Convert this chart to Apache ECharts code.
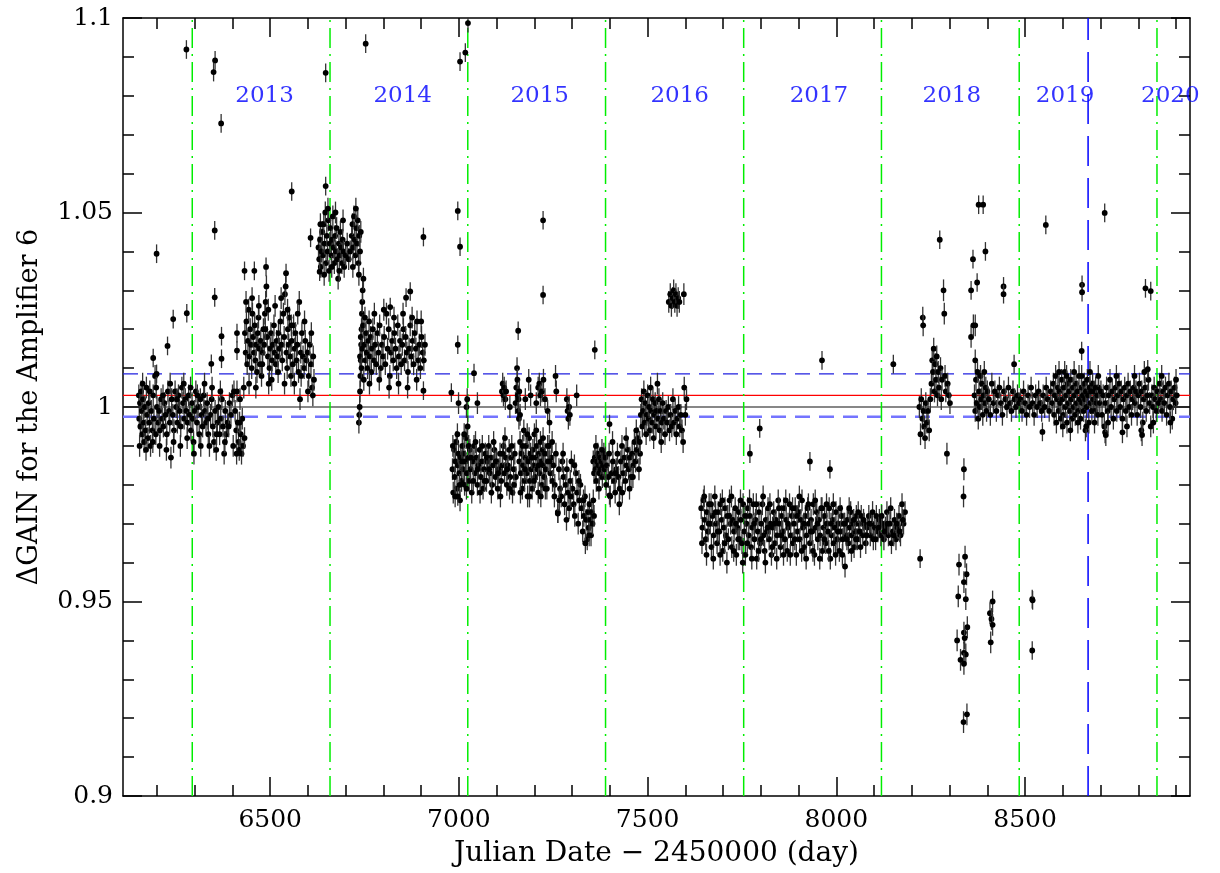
<!DOCTYPE html>
<html>
<head>
<meta charset="utf-8">
<script src="https://cdn.jsdelivr.net/npm/echarts@6/dist/echarts.min.js"></script>
<style>
  html, body { margin: 0; padding: 0; background: #fff; }
  #main { width: 1220px; height: 873px; }
</style>
</head>
<body>
<div id="main"></div>
<script>
// year boundaries (JD - 2450000) and the labels between them
var yearStarts = [6293.5, 6658.5, 7023.5, 7388.5, 7754.5, 8119.5, 8484.5, 8849.5];
var yearNames = ['2013', '2014', '2015', '2016', '2017', '2018', '2019', '2020'];
var yearLabelX = [6485, 6851, 7214, 7585, 7954, 8306, 8606, 8885];
var yearLabelY = 1.08;
var markerJD = 8667;

// reference levels
var levelOne = 1.0;
var levelMean = 1.003;
var levelUpper = 1.0085;
var levelLower = 0.9975;

var xMajorTicks = [6500, 7000, 7500, 8000, 8500];
var xMinorTicks = [6200, 6300, 6400, 6500, 6600, 6700, 6800, 6900, 7000, 7100, 7200, 7300, 7400,
  7500, 7600, 7700, 7800, 7900, 8000, 8100, 8200, 8300, 8400, 8500, 8600, 8700, 8800, 8900];

// [JD, gain], one array per observing season
var season2012 = [[6152,1.003],[6153,0.997],[6155,1.001],[6156,0.995],[6158,1.004],[6160,0.999],[6161,0.993],[6163,1.002],
  [6165,0.996],[6166,0.991],[6168,1.000],[6170,0.994],[6172,1.005],[6174,0.998],[6176,0.992],[6178,1.001],[6180,0.996],
  [6183,0.990],[6185,0.999],[6188,0.994],[6190,1.003],[6192,0.997],[6195,1.008],[6197,0.993],[6200,1.000],[6203,0.996],
  [6206,0.999],[6208,0.994],[6211,1.002],[6214,0.997],[6217,0.995],[6220,1.001],[6223,0.998],[6226,0.993],[6229,1.004],
  [6232,0.999],[6234,0.996],[6237,0.987],[6239,1.002],[6242,0.998],[6245,0.994],[6248,1.004],[6251,1.000],[6254,0.996],
  [6257,1.003],[6260,0.999],[6263,0.995],[6266,1.005],[6269,1.001],[6272,0.997],[6275,1.002],[6278,0.999],[6281,0.996],
  [6284,1.003],[6287,0.998],[6290,0.994],[6293,1.001],[6295,0.997],[6297,0.991],[6300,0.999],[6303,1.004],[6306,0.996],
  [6309,1.000],[6312,0.993],[6315,1.002],[6318,0.998],[6321,0.995],[6324,1.003],[6327,0.999],[6330,0.996],[6333,1.001],
  [6336,0.993],[6339,0.990],[6342,0.998],[6345,1.002],[6348,0.995],[6351,0.991],[6354,0.999],[6357,0.989],[6360,0.996],
  [6363,1.000],[6366,0.993],[6369,0.997],[6372,1.002],[6375,0.995],[6378,0.988],[6381,0.999],[6384,0.993],[6387,0.996],
  [6392,1.001],[6396,0.998],[6400,1.003],[6404,1.004],[6407,0.999],[6410,0.994],[6412,1.004],[6414,0.996],[6416,0.991],
  [6418,0.989],[6420,1.002],[6422,0.993],[6424,0.988],[6426,0.997],[6428,0.990],[6430,1.005],[6432,0.992],
  [6154,0.990],[6162,1.006],[6171,0.989],[6181,1.004],[6189,0.991],[6198,1.005],[6207,0.990],[6216,1.003],[6225,0.989],
  [6235,1.006],[6244,0.991],[6253,1.002],[6262,0.990],[6271,1.006],[6280,0.992],[6289,1.005],[6298,0.988],[6307,1.003],
  [6316,0.990],[6326,1.006],[6335,0.997],[6346,1.005],[6358,0.993],[6368,1.004],[6380,0.991],[6390,0.995],[6402,0.990],
  [6411,0.988],[6419,0.996]];

var season2013 = [[6433,1.019],[6435,1.014],[6437,1.022],[6439,1.011],[6441,1.017],[6443,1.025],[6445,1.013],[6447,1.020],
  [6449,1.016],[6451,1.010],[6453,1.024],[6455,1.018],[6457,1.014],[6459,1.021],[6461,1.012],[6463,1.016],[6465,1.009],
  [6467,1.019],[6469,1.023],[6471,1.015],[6473,1.011],[6475,1.017],[6477,1.008],[6480,1.014],[6482,1.020],[6484,1.016],
  [6486,1.024],[6488,1.027],[6490,1.031],[6492,1.018],[6494,1.013],[6496,1.006],[6498,1.010],[6500,1.015],[6502,1.019],
  [6505,1.012],[6507,1.016],[6510,1.021],[6512,1.014],[6515,1.011],[6517,1.017],[6520,1.013],[6522,1.019],[6525,1.015],
  [6527,1.022],[6530,1.016],[6532,1.012],[6535,1.024],[6537,1.018],[6539,1.029],[6541,1.031],[6543,1.014],[6545,1.010],
  [6547,1.020],[6549,1.016],[6551,1.023],[6553,1.013],[6555,1.008],[6557,1.017],[6560,1.011],[6562,1.021],[6565,1.015],
  [6567,1.019],[6570,1.012],[6572,1.016],[6575,1.009],[6577,1.027],[6579,1.002],[6581,1.014],[6584,1.019],[6587,1.013],
  [6590,1.010],[6593,1.017],[6596,1.012],[6599,1.014],[6602,1.008],[6605,1.016],[6608,1.011],[6611,1.005],[6614,1.013],
  [6616,1.007],
  [6436,1.027],[6444,1.006],[6452,1.028],[6462,1.005],[6470,1.026],[6479,1.011],[6487,1.020],[6495,1.025],[6504,1.007],
  [6513,1.026],[6521,1.009],[6529,1.028],[6538,1.006],[6546,1.025],[6556,1.021],[6564,1.006],[6573,1.024],[6582,1.008],
  [6591,1.022],[6600,1.004],[6609,1.019],[6613,1.003]];

var season2014a = [[6628,1.041],[6630,1.038],[6632,1.043],[6634,1.036],[6636,1.040],[6638,1.045],[6640,1.039],[6642,1.047],
  [6644,1.042],[6646,1.050],[6648,1.037],[6650,1.044],[6652,1.040],[6654,1.048],[6656,1.035],[6658,1.042],[6660,1.046],
  [6662,1.039],[6664,1.043],[6666,1.049],[6668,1.041],[6670,1.037],[6672,1.044],[6674,1.040],[6676,1.046],[6678,1.038],
  [6680,1.033],[6682,1.042],[6684,1.039],[6686,1.045],[6688,1.041],[6690,1.037],[6692,1.043],[6694,1.040],[6696,1.036],
  [6700,1.039],[6704,1.042],[6708,1.038],[6712,1.040],[6716,1.044],[6718,1.047],[6720,1.041],[6722,1.049],[6724,1.043],
  [6726,1.039],[6728,1.046],[6730,1.042],[6732,1.048],[6734,1.037],[6736,1.044],[6738,1.040],[6740,1.045],
  [6633,1.047],[6643,1.034],[6653,1.051],[6663,1.036],[6673,1.050],[6683,1.035],[6693,1.048],[6719,1.036],[6727,1.051],
  [6735,1.034]];

var season2014b = [[6735,0.996],[6736,0.998],[6737,1.000],[6738,1.004],[6739,1.008],[6740,1.012],[6741,1.016],[6742,1.020],
  [6743,1.024],[6744,1.027],[6745,1.030],[6747,1.033],
  [6738,1.013],[6740,1.018],[6742,1.010],[6744,1.015],[6746,1.021],[6748,1.007],[6750,1.016],[6752,1.012],[6754,1.019],
  [6756,1.014],[6758,1.010],[6760,1.017],[6762,1.022],[6764,1.013],[6766,1.018],[6768,1.009],[6770,1.015],[6772,1.020],
  [6775,1.012],[6778,1.016],[6781,1.011],[6784,1.019],[6787,1.014],[6790,1.021],[6793,1.010],[6796,1.016],[6799,1.013],
  [6802,1.018],[6805,1.011],[6808,1.024],[6811,1.015],[6814,1.020],[6817,1.008],[6820,1.014],[6823,1.017],[6826,1.012],
  [6829,1.019],[6832,1.015],[6835,1.010],[6838,1.021],[6841,1.013],[6844,1.017],[6847,1.011],[6850,1.016],[6853,1.020],
  [6856,1.012],[6859,1.018],[6862,1.014],[6865,1.009],[6868,1.015],[6871,1.021],[6874,1.013],[6877,1.017],[6880,1.011],
  [6883,1.019],[6886,1.015],[6889,1.022],[6892,1.012],[6895,1.016],[6898,1.010],[6901,1.018],[6904,1.014],[6907,1.012],
  [6910,1.016],
  [6751,1.023],[6763,1.006],[6776,1.024],[6789,1.007],[6801,1.025],[6815,1.005],[6828,1.023],[6840,1.006],[6852,1.024],
  [6864,1.005],[6876,1.023],[6888,1.007],[6900,1.022]];

var season2015 = [[6983,0.984],[6985,0.978],[6987,0.989],[6989,0.982],[6991,0.986],[6993,0.991],[6995,0.979],[6997,0.985],
  [6999,0.988],[7001,0.983],[7003,0.976],[7005,0.987],[7007,0.981],[7009,0.990],[7011,0.984],[7013,0.988],[7015,0.980],
  [7017,0.986],[7019,0.992],[7021,0.983],[7023,0.995],[7025,0.987],[7027,0.981],[7029,0.989],[7031,0.984],[7034,0.978],
  [7037,0.986],[7040,0.990],[7043,0.983],[7046,0.987],[7049,0.980],[7052,0.985],[7055,0.989],[7058,0.982],[7061,0.986],
  [7064,0.979],[7067,0.984],[7070,0.988],[7073,0.981],[7076,0.986],[7079,0.990],[7082,0.983],[7085,0.987],[7088,0.980],
  [7091,0.985],[7094,0.989],[7097,0.982],[7100,0.986],[7103,0.979],[7106,0.984],[7109,0.988],[7112,0.981],[7115,0.985],
  [7118,0.990],[7121,0.983],[7124,0.987],[7127,0.980],[7130,0.985],[7133,0.989],[7136,0.982],[7139,0.987],[7142,0.978],
  [7145,0.984],[7148,0.988],[7151,0.982],
  [7160,0.986],[7162,0.991],[7164,0.983],[7166,0.988],[7168,0.979],[7170,0.985],[7172,0.994],[7174,0.981],[7176,0.987],
  [7178,0.990],[7180,0.983],[7182,0.977],[7184,0.986],[7186,0.992],[7188,0.981],[7190,0.988],[7192,0.984],[7194,0.979],
  [7196,0.989],[7198,0.985],[7200,0.993],[7202,0.982],[7204,0.987],[7206,0.990],[7208,0.984],[7210,0.978],[7212,0.988],
  [7214,0.983],[7216,0.991],[7218,0.986],[7220,0.980],[7222,0.989],[7224,0.985],[7226,0.982],[7228,0.988],[7230,0.984],
  [7233,0.979],[7236,0.986],[7239,0.990],[7242,0.983],[7245,0.987],[7248,0.981],[7251,0.985],[7254,0.980],[7257,0.988],
  [7262,0.973],[7265,0.984],[7268,0.979],[7271,0.977],[7274,0.986],[7277,0.982],[7280,0.975],[7283,0.980],[7286,0.984],
  [7289,0.978],[7292,0.974],[7295,0.981],[7298,0.986],[7301,0.979],[7304,0.975],[7307,0.972],[7310,0.983],[7313,0.978],
  [7316,0.970],[7319,0.976],[7322,0.980],[7325,0.974],[7328,0.968],[7331,0.972],[7334,0.977],[7337,0.971],[7340,0.966],
  [7342,0.973],[7344,0.969],[7346,0.975],[7348,0.971],[7350,0.967],[7352,0.973],[7354,0.970],[7356,0.976],[7358,0.972],
  [6984,0.990],[6990,0.977],[6996,0.993],[7002,0.980],[7008,0.986],[7014,0.993],[7020,0.979],[7026,0.990],[7032,0.987],
  [7038,0.981],[7044,0.991],[7050,0.984],[7056,0.978],[7062,0.990],[7068,0.981],[7074,0.987],[7080,0.984],[7086,0.978],
  [7092,0.991],[7098,0.986],[7104,0.983],[7110,0.977],[7116,0.988],[7122,0.992],[7128,0.984],[7134,0.979],[7140,0.990],
  [7146,0.980],[7163,0.978],[7169,0.990],[7175,0.984],[7181,0.993],[7187,0.977],[7193,0.987],[7199,0.981],[7205,0.994],
  [7211,0.985],[7217,0.977],[7223,0.992],[7229,0.979],[7235,0.990],[7241,0.986],[7247,0.991],[7253,0.977],[7266,0.976],
  [7276,0.988],[7285,0.971],[7296,0.977],[7306,0.985],[7318,0.981],[7330,0.976],[7335,0.965],[7345,0.967]];

var season2015up = [[6999,1.001],[7020,1.000],[7022,1.002],[7049,1.001],[7114,1.004],[7116,1.006],[7118,1.003],[7120,1.005],
  [7123,1.002],[7125,1.004],[7135,1.000],[7150,1.001],[7152,1.005],[7154,1.010],[7155,1.007],[7156,1.003],[7157,0.999],
  [7158,1.002],[7159,0.997],[7160,1.004],[7162,0.998],[7176,1.002],[7185,1.007],[7190,1.003],[7205,1.001],[7210,1.005],
  [7213,1.006],[7216,1.003],[7220,1.004],[7224,1.007],[7228,1.002],[7235,0.999],[7240,0.996],[7256,1.008],[7258,1.004],
  [7286,1.002],[7288,0.999],[7290,0.997],[7292,1.000],[7294,0.998],[7312,1.003]];

var season2016 = [[7356,0.986],[7358,0.983],[7360,0.987],[7362,0.984],[7364,0.981],[7366,0.986],[7368,0.988],[7370,0.985],
  [7372,0.983],[7374,0.987],[7376,0.984],[7378,0.986],[7380,0.982],[7382,0.985],[7384,0.988],[7386,0.984],[7388,0.987],
  [7392,0.985],[7396,0.982],[7401,0.977],[7405,0.983],[7408,0.986],[7411,0.981],[7414,0.978],[7417,0.984],[7420,0.988],
  [7423,0.982],[7426,0.979],[7429,0.986],[7432,0.990],[7435,0.983],[7438,0.987],[7441,0.981],[7444,0.985],[7447,0.989],
  [7450,0.984],[7453,0.987],[7456,0.982],[7459,0.988],[7462,0.985],[7465,0.991],[7468,0.986],[7471,0.989],[7474,0.992],
  [7477,0.984],[7480,0.988],
  [7363,0.990],[7371,0.979],[7379,0.989],[7390,0.980],[7398,0.988],[7407,0.991],[7415,0.983],[7425,0.975],[7433,0.978],
  [7443,0.992],[7452,0.979],[7461,0.982],[7470,0.994],[7479,0.991],
  [7482,0.998],[7484,1.002],[7486,0.995],[7488,0.999],[7490,1.004],[7492,0.996],[7494,1.001],[7496,0.993],[7498,0.998],
  [7500,1.003],[7502,0.997],[7504,1.000],[7506,0.994],[7508,1.005],[7510,0.999],[7512,0.996],[7514,1.002],[7516,0.992],
  [7518,0.998],[7520,1.001],[7522,0.995],[7524,0.999],[7526,1.006],[7528,0.997],[7530,1.002],[7532,0.994],[7534,0.999],
  [7536,0.991],[7538,0.996],[7540,1.001],[7543,0.997],[7546,0.993],[7549,0.999],[7552,0.996],[7555,1.000],[7558,0.994],
  [7561,0.998],[7564,0.995],[7567,1.002],[7570,0.996],[7573,0.999],[7576,0.993],[7579,0.997],[7582,1.000],[7585,0.995],
  [7588,0.998],[7591,0.994],[7594,0.991],[7597,1.005],[7600,0.998],[7603,1.002],
  [7556,1.027],[7560,1.029],[7563,1.026],[7566,1.028],[7569,1.030],[7572,1.027],[7575,1.029],[7578,1.026],[7581,1.028],
  [7584,1.027],[7596,1.029]];

var season2017 = [[7642,0.974],[7645,0.969],[7648,0.976],[7651,0.971],[7654,0.966],[7657,0.973],[7660,0.968],[7663,0.975],
  [7666,0.970],[7669,0.964],[7672,0.972],[7675,0.967],[7678,0.977],[7681,0.970],[7684,0.965],[7687,0.973],[7690,0.968],
  [7693,0.975],[7696,0.971],[7699,0.963],[7702,0.969],[7705,0.974],[7708,0.967],[7711,0.972],[7714,0.966],[7717,0.976],
  [7720,0.970],[7723,0.964],[7726,0.971],[7729,0.968],[7732,0.974],[7735,0.962],[7738,0.969],[7741,0.973],[7744,0.966],
  [7747,0.971],[7750,0.965],[7753,0.975],[7756,0.968],[7759,0.962],[7762,0.970],[7765,0.974],[7768,0.967],[7771,0.972],
  [7774,0.964],[7777,0.969],[7780,0.975],[7783,0.966],[7786,0.971],[7789,0.961],[7792,0.968],[7795,0.973],[7798,0.965],
  [7801,0.970],[7804,0.975],[7807,0.967],[7810,0.963],[7813,0.971],[7816,0.968],[7819,0.974],[7822,0.966],[7825,0.970],
  [7828,0.962],[7831,0.969],[7834,0.973],[7837,0.965],[7840,0.971],[7843,0.967],[7846,0.976],[7849,0.970],[7852,0.964],
  [7855,0.972],[7858,0.968],[7861,0.974],[7864,0.966],[7867,0.971],[7870,0.963],[7873,0.969],[7876,0.975],[7879,0.967],
  [7882,0.972],[7885,0.965],[7888,0.970],[7891,0.974],[7894,0.962],[7897,0.968],[7900,0.973],[7903,0.966],[7906,0.971],
  [7909,0.976],[7912,0.969],[7915,0.964],[7918,0.972],[7921,0.967],[7924,0.974],[7927,0.970],[7930,0.965],[7933,0.971],
  [7936,0.968],[7939,0.975],[7942,0.962],[7945,0.969],[7948,0.973],[7951,0.966],[7954,0.971],[7957,0.967],[7960,0.974],
  [7963,0.963],[7966,0.969],[7969,0.972],[7972,0.965],[7975,0.970],[7978,0.968],[7981,0.974],[7984,0.961],[7987,0.967],
  [7990,0.971],[7993,0.965],[7996,0.969],[7999,0.973],[8002,0.966],[8005,0.970],[8008,0.963],[8011,0.968],[8014,0.972],
  [8017,0.966],[8020,0.970],[8023,0.959],[8026,0.967],[8029,0.971],[8032,0.965],[8035,0.969],[8038,0.973],[8041,0.967],
  [8044,0.970],[8047,0.964],[8050,0.968],[8053,0.972],[8056,0.966],[8059,0.970],[8062,0.968],[8066,0.972],[8070,0.967],
  [8074,0.970],[8078,0.965],[8082,0.969],[8086,0.972],[8090,0.967],[8094,0.970],[8098,0.966],[8102,0.969],[8106,0.972],
  [8110,0.968],[8114,0.971],[8118,0.967],[8122,0.970],[8126,0.966],[8130,0.969],[8134,0.973],[8138,0.967],[8142,0.970],
  [8146,0.965],[8150,0.968],[8154,0.971],[8158,0.966],[8162,0.969],[8166,0.972],[8170,0.967],[8174,0.975],[8178,0.970],
  [8182,0.973],
  [7644,0.965],[7650,0.977],[7656,0.962],[7662,0.970],[7668,0.975],[7674,0.961],[7680,0.973],[7686,0.968],[7692,0.962],
  [7698,0.976],[7704,0.965],[7710,0.960],[7716,0.972],[7722,0.977],[7728,0.963],[7734,0.970],[7740,0.966],[7746,0.976],
  [7752,0.960],[7758,0.972],[7764,0.965],[7770,0.976],[7776,0.961],[7782,0.970],[7788,0.975],[7794,0.963],[7800,0.966],
  [7806,0.977],[7812,0.960],[7818,0.969],[7824,0.975],[7830,0.964],[7836,0.970],[7842,0.961],[7848,0.974],[7854,0.967],
  [7860,0.962],[7866,0.976],[7872,0.970],[7878,0.962],[7884,0.974],[7890,0.966],[7896,0.972],[7902,0.977],[7908,0.963],
  [7914,0.970],[7920,0.961],[7926,0.975],[7932,0.968],[7938,0.963],[7944,0.976],[7950,0.970],[7956,0.961],[7962,0.974],
  [7968,0.966],[7974,0.975],[7980,0.963],[7986,0.970],[7992,0.975],[7998,0.962],[8004,0.968],[8010,0.974],[8016,0.962],
  [8022,0.970],[8028,0.966],[8034,0.974],[8040,0.963],[8046,0.971],[8052,0.966],[8058,0.973],[8064,0.964],[8072,0.971],
  [8080,0.967],[8088,0.970],[8096,0.973],[8104,0.966],[8112,0.969],[8120,0.972],[8128,0.968],[8136,0.970],[8144,0.974],
  [8152,0.967],[8160,0.970],[8168,0.968],[8176,0.971]];

var season2018 = [[8220,1.000],[8223,0.993],[8225,1.002],[8228,0.997],[8229,1.023],[8230,1.021],[8231,0.999],[8233,0.995],
  [8235,0.992],[8237,1.001],[8240,0.996],[8243,0.999],[8246,0.994],[8249,1.002],[8252,1.006],[8254,1.012],[8256,1.009],
  [8258,1.015],[8260,1.004],[8262,1.011],[8264,1.007],[8266,1.013],[8268,1.003],[8270,1.009],[8272,1.005],[8276,1.010],
  [8278,1.002],[8280,1.007],[8284,1.030],[8286,1.024],[8288,1.008],[8290,1.004],[8293,0.988],[8295,1.006],[8298,1.003],
  [8301,1.001],[8337,0.977],[8338,0.984],[8357,1.018],[8363,1.021],[8368,1.021],[8368,1.012],
  [8366,1.003],[8368,0.999],[8370,1.007],[8372,1.001],[8374,1.009],[8376,0.997],[8378,1.004],[8380,1.000],[8382,1.008],
  [8384,1.002],[8386,1.006],[8388,0.998],[8390,1.003],[8392,1.009],[8394,1.001],[8396,1.005],[8398,0.999],[8400,1.004],
  [8404,1.002],[8408,0.998],[8412,1.006],[8416,1.001],[8420,1.004],[8424,0.999],[8428,1.003],[8432,1.005],[8436,1.001],
  [8440,0.998],[8444,1.004],[8448,1.002],[8452,1.000],[8456,1.005],[8460,1.001],[8464,0.999],[8468,1.004],[8472,1.002],
  [8476,1.000],[8480,1.003],[8484,1.001]];

var season2018low = [[8341,0.9615],[8325,0.9595],[8345,0.957],[8338,0.955],[8323,0.9513],[8343,0.9506],[8320,0.940],
  [8338,0.942],[8347,0.9434],[8340,0.9406],[8343,0.9364],[8338,0.9368],[8329,0.935],[8338,0.934],[8337,0.919],
  [8346,0.921],[8414,0.950],[8407,0.947],[8411,0.9455],[8414,0.944],[8409,0.9395]];

var season2019 = [[8488,1.002],[8492,0.999],[8496,1.004],[8500,1.001],[8504,0.998],[8508,1.003],[8512,1.000],[8516,1.005],
  [8520,1.001],[8524,0.998],[8528,1.003],[8532,1.000],[8536,1.004],[8540,1.001],[8544,0.999],[8548,1.003],[8552,1.000],
  [8556,1.005],[8560,1.002],[8564,0.999],[8568,1.004],[8572,1.001],[8575,1.006],[8577,0.998],[8579,1.003],[8581,1.008],
  [8583,0.996],[8585,1.002],[8587,1.005],[8589,0.999],[8591,1.004],[8593,1.001],[8595,0.997],[8597,1.007],[8599,1.002],
  [8601,0.998],[8603,1.005],[8605,1.009],[8607,1.000],[8609,1.003],[8611,0.996],[8613,1.006],[8615,1.001],[8617,1.004],
  [8619,0.999],[8621,1.007],[8623,1.002],[8625,0.997],[8627,1.005],[8629,1.000],[8631,1.003],[8633,0.998],[8635,1.006],
  [8637,1.001],[8639,1.004],[8641,0.999],[8643,1.008],[8645,1.002],[8647,0.997],[8649,1.005],[8651,1.001],[8653,1.003],
  [8655,0.999],[8657,1.006],[8659,1.002],[8661,1.004],[8663,1.000],[8665,1.007],[8667,1.003],[8669,0.996],[8671,1.005],
  [8673,1.001],[8675,1.004],[8677,0.999],[8679,1.006],[8681,1.002],[8683,1.004],[8685,0.999],[8687,1.005],[8689,1.001],
  [8691,1.003],[8693,0.998],[8695,1.005],[8698,1.001],[8701,1.004],[8704,0.998],[8707,1.003],[8710,0.995],[8713,1.001],
  [8716,1.005],[8719,0.999],[8722,1.003],[8725,1.007],[8728,1.000],[8731,1.004],[8734,0.997],[8737,1.002],[8740,1.005],
  [8743,0.999],[8746,1.003],[8749,1.006],[8752,1.000],[8755,1.004],[8758,0.997],[8761,1.002],[8764,1.005],[8767,0.999],
  [8770,1.003],[8773,1.006],[8776,1.000],[8779,1.004],[8782,0.998],[8785,1.002],[8788,1.005],[8791,1.001],[8794,1.004],
  [8797,0.998],[8800,1.003],[8803,1.006],[8806,1.000],[8809,1.004],[8812,0.996],[8815,1.002],[8818,1.005],[8821,0.999],
  [8824,1.003],[8827,1.007],[8830,1.001],[8833,0.995],[8836,1.003],[8839,1.000],[8842,1.005],[8845,1.002],[8848,0.999],
  [8851,1.004],[8854,1.001],[8857,1.006],[8860,1.002],[8863,0.999],[8866,1.004],[8869,1.001],[8872,1.005],[8875,0.998],
  [8878,1.003],[8881,1.006],[8884,1.000],[8887,1.004],[8890,0.997],[8893,1.002],[8896,1.005],[8899,1.001],[8902,1.003],
  [8660,0.994],[8712,0.9935],[8714,0.9928],[8758,0.9935],[8808,0.994],[8810,0.9928],
  [8590,1.009],[8600,0.995],[8610,1.008],[8620,0.994],[8630,1.009],[8640,0.996],[8650,1.008],[8662,0.995],[8672,1.009],
  [8684,0.996],[8694,1.008],[8720,0.996],[8742,1.008],[8770,0.995],[8790,1.008],[8816,1.009],[8840,0.996],[8862,1.008],
  [8885,0.996],[8900,1.007]];

// isolated points
var outliers = [[6278,1.0919],[6354,1.0891],[6350,1.0861],[6370,1.0729],[6557,1.0554],[6647,1.0859],[6647,1.0568],
  [6753,1.0934],[7003,1.0888],[7017,1.0911],[7024,1.0987],[6997,1.0504],[7003,1.0412],[6906,1.0437],[6607,1.0435],
  [6631,1.0348],[6860,1.0281],[6871,1.0297],[6818,1.0257],[6432,1.035],[6458,1.035],[6489,1.036],[6542,1.0344],
  [6353,1.0454],[6353,1.0282],[6199,1.0394],[6190,1.0126],[6228,1.0157],[6243,1.0226],[6279,1.0241],[6344,1.0111],
  [6371,1.0182],[6371,1.0124],[6412,1.019],[6412,1.0145],[6199,1.0085],[6906,1.0042],[7223,1.048],[7223,1.0288],
  [6997,1.016],[7157,1.0196],[7360,1.0147],[7040,1.0087],[6980,1.0037],[6997,0.977],[7262,0.9726],[7399,0.9956],
  [7399,0.9773],[7771,0.988],[7797,0.9945],[7930,0.986],[7983,0.984],[7962,1.012],[8151,1.011],[8222,0.961],
  [8274,1.043],[8362,1.038],[8357,1.030],[8373,1.032],[8377,1.052],[8389,1.052],[8395,1.040],[8443,1.031],[8443,1.029],
  [8471,1.011],[8519,0.9506],[8520,0.9503],[8519,0.9374],[8546,0.9936],[8555,1.0468],[8651,1.0314],[8651,1.0295],
  [8650,1.0144],[8711,1.0499],[8819,1.0305],[8833,1.0298],[8825,1.0097]];

// typical error bars per group
var errCluster = 0.0028;
var errOutlier = 0.0024;

var serif = 'DejaVu Serif';

function withErr(arr, e) {
  return arr.map(function (p) { return [p[0], p[1], e]; });
}

var points = [].concat(
  withErr(season2012, errCluster), withErr(season2013, errCluster), withErr(season2014a, errCluster),
  withErr(season2014b, errCluster), withErr(season2015, errCluster), withErr(season2015up, errCluster),
  withErr(season2016, errCluster), withErr(season2017, errCluster), withErr(season2018, errCluster),
  withErr(season2018low, errCluster), withErr(season2019, errCluster), withErr(outliers, errOutlier)
);

var chart = echarts.init(document.getElementById('main'));

var xMin = 6110, xMax = 8937;

function xAxisCfg(pos, ticks, len, withLine, withLabel) {
  return {
    type: 'value', min: xMin, max: xMax, position: pos,
    splitLine: { show: false },
    axisLine: { show: withLine, lineStyle: { color: '#000', width: 1.5 } },
    axisTick: { show: true, inside: true, length: len, customValues: ticks, lineStyle: { color: '#000', width: 1.5 } },
    axisLabel: withLabel
      ? { show: true, customValues: xMajorTicks, formatter: function (v) { return String(v); },
          color: '#000', fontFamily: serif, fontSize: 25, margin: 12 }
      : { show: false }
  };
}

var xBottom = xAxisCfg('bottom', xMajorTicks, 19, true, true);
xBottom.name = 'Julian Date \u2212 2450000 (day)';
xBottom.nameLocation = 'middle';
xBottom.nameGap = 44;
xBottom.nameTextStyle = { color: '#000', fontFamily: serif, fontSize: 28 };

function yAxisCfg(pos, withLabel) {
  return {
    type: 'value', min: 0.9, max: 1.1, interval: 0.05, position: pos,
    splitLine: { show: false },
    axisLine: { show: true, lineStyle: { color: '#000', width: 1.5 } },
    axisTick: { show: true, inside: true, length: 19, lineStyle: { color: '#000', width: 1.5 } },
    minorTick: { show: true, splitNumber: 5, length: 11, lineStyle: { color: '#000', width: 1.5 } },
    axisLabel: withLabel
      ? { show: true, color: '#000', fontFamily: serif, fontSize: 25, margin: 10 }
      : { show: false }
  };
}

var yLeft = yAxisCfg('left', true);
yLeft.name = '\u0394GAIN for the Amplifier 6';
yLeft.nameLocation = 'middle';
yLeft.nameGap = 80;
yLeft.nameTextStyle = { color: '#000', fontFamily: serif, fontSize: 27 };

// straight guide lines as plain two-point line series
function guide(p1, p2, style) {
  return {
    type: 'line', xAxisIndex: 0, yAxisIndex: 0, silent: true, showSymbol: false, symbol: 'none',
    data: [p1, p2], lineStyle: style, z: 1
  };
}

var guides = [
  guide([xMin, levelOne], [xMax, levelOne], { color: '#111', width: 1.2, type: 'solid' }),
  guide([xMin, levelMean], [xMax, levelMean], { color: '#ff0000', width: 1.2, type: 'solid' }),
  guide([xMin, levelUpper], [xMax, levelUpper], { color: '#2020e0', width: 1.3, type: [15, 9] }),
  guide([xMin, levelLower], [xMax, levelLower], { color: '#7474ff', width: 2.3, type: [15, 9] })
];
yearStarts.forEach(function (x) {
  guides.push(guide([x, 0.9], [x, 1.1], { color: '#00ee00', width: 1.5, type: [20, 6, 2, 6] }));
});
guides.push(guide([markerJD, 0.9], [markerJD, 1.1], { color: '#0000ff', width: 1.5, type: [30, 12] }));

var option = {
  animation: false,
  backgroundColor: '#fff',
  grid: { left: 123, right: 30, top: 18, bottom: 73 },
  xAxis: [
    xBottom,
    xAxisCfg('bottom', xMinorTicks, 11, false, false),
    xAxisCfg('top', xMajorTicks, 19, true, false),
    xAxisCfg('top', xMinorTicks, 11, false, false)
  ],
  yAxis: [yLeft, yAxisCfg('right', false)],
  series: guides.concat([
    {
      type: 'custom',
      xAxisIndex: 0, yAxisIndex: 0,
      clip: true,
      z: 3,
      data: points,
      renderItem: function (params, api) {
        var x = api.value(0), y = api.value(1), e = api.value(2);
        var p = api.coord([x, y]);
        var hi = api.coord([x, y + e]);
        var lo = api.coord([x, y - e]);
        return {
          type: 'group',
          children: [
            { type: 'line', shape: { x1: p[0], y1: hi[1], x2: p[0], y2: lo[1] },
              style: { stroke: '#333', lineWidth: 1.3 } },
            { type: 'circle', shape: { cx: p[0], cy: p[1], r: 2.9 }, style: { fill: '#000' } }
          ]
        };
      }
    },
    {
      type: 'scatter',
      xAxisIndex: 0, yAxisIndex: 0,
      symbolSize: 0,
      silent: true,
      data: yearNames.map(function (n, i) { return { name: n, value: [yearLabelX[i], yearLabelY] }; }),
      label: { show: true, position: 'inside', formatter: function (p) { return p.name; },
        color: '#0000ff', fontFamily: serif, fontSize: 23 }
    }
  ])
};

chart.setOption(option);
</script>
</body>
</html>
